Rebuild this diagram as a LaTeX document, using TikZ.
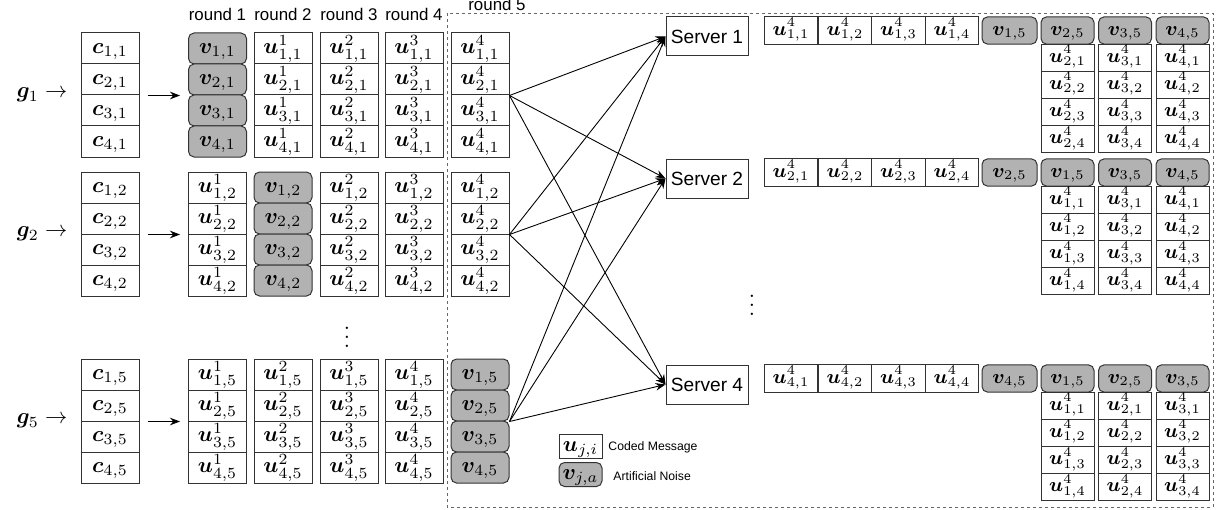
\documentclass[tikz,border=0pt]{standalone}
\usepackage{amsmath,bm}
\usepackage{fontspec}
\newfontfamily\arial{Liberation Sans}
\usetikzlibrary{arrows.meta}

\tikzset{
  cell/.style={draw=black!80,fill=white,line width=0.45pt,inner sep=0pt,
    minimum width=26.1pt,minimum height=13.95pt,text height=7pt,text depth=2.5pt},
  noise/.style={cell,fill=gray!60,rounded corners=2.5pt},
  rcell/.style={cell,minimum width=24.2pt,minimum height=12.25pt,
    font=\fontsize{9.2}{10}\selectfont,text height=6.3pt,text depth=2.2pt},
  rnoise/.style={rcell,fill=gray!60,rounded corners=2.5pt},
  server/.style={draw=black!80,line width=0.45pt,inner sep=0pt,minimum width=36.9pt,
    minimum height=17.55pt,font=\arial\fontsize{8.6}{10}\selectfont},
  rnd/.style={font=\arial\fontsize{7.6}{9}\selectfont,inner sep=0pt},
  legtxt/.style={font=\arial\fontsize{5.5}{7}\selectfont,anchor=west,inner sep=0pt},
}

\begin{document}
\begin{tikzpicture}[x=0.45pt,y=-0.45pt,>={Stealth[length=4.5pt,width=3.4pt]}]
\useasboundingbox (0,0) rectangle (1216,510);
% frame of round 5
\draw[black!60,line width=0.4pt,dash pattern=on 1.5pt off 1.2pt] (447,13) rectangle (1213,507);
\foreach \rd/\cx in {1/217.5,2/283,3/349,4/414}
  \node[rnd] (round\rd) at (\cx,14) {round \rd};
\node[rnd] (round5) at (497,4) {round 5};

% users: coded pieces and the rounds
\foreach \grp/\ty in {1/33,2/172,5/359}{
  \node (g\grp) at (42,\ty+62) {$\bm{g}_\grp \rightarrow$};
  \foreach \ii in {1,...,4}
    \node[cell] (c-\ii-\grp) at (110,\ty+15.5+31*\ii-31) {$\bm{c}_{\ii,\grp}$};
  \foreach \rd/\cx in {1/217.5,2/283,3/349,4/414,5/480}
    \foreach \ii in {1,...,4}{
      \pgfmathtruncatemacro\pw{\rd<\grp ? \rd : \rd-1}
      \ifnum\rd=\grp
        \node[noise] (r\rd-\ii-\grp) at (\cx,\ty+15.5+31*\ii-31) {$\bm{v}_{\ii,\grp}$};
      \else
        \node[cell] (r\rd-\ii-\grp) at (\cx,\ty+15.5+31*\ii-31) {$\bm{u}^{\pw}_{\ii,\grp}$};
      \fi
    }
  \draw[->,line width=0.4pt] ([xshift=3.6pt]c-2-\grp.south east) -- ([xshift=-3.6pt]r1-2-\grp.south west);
}
\node (dots-l) at (347,331) {$\vdots$};

% servers and what they hold
\foreach \sv/\ty/\others in {1/17/{2,3,4},2/159/{1,3,4},4/365/{1,2,3}}{
  \node[server] (srv\sv) at (707,\ty+19.5) {Server \sv};
  \foreach \kk/\cx in {1/791,2/845,3/898.5,4/952}
    \node[rcell] (row\sv-\kk) at (\cx,\ty+13.5) {$\bm{u}^4_{\sv,\kk}$};
  \node[rnoise,minimum width=24.75pt] (own\sv) at (1009.5,\ty+13.5) {$\bm{v}_{\sv,5}$};
  \foreach \jj [count=\m from 0] in \others{
    \node[rnoise,minimum width=23.85pt] (top\sv-\jj) at (1067.5+57.5*\m,\ty+13.5) {$\bm{v}_{\jj,5}$};
    \foreach \kk in {1,...,4}
      \node[rcell,minimum width=23.85pt] (col\sv-\jj-\kk) at (1067.5+57.5*\m,\ty+13.5+27.2*\kk) {$\bm{u}^4_{\jj,\kk}$};
  }
}
\node (dots-r) at (752,299) {$\vdots$};

\foreach \grp in {1,2,5}
  \foreach \sv in {1,2,4}
    \draw[->,line width=0.4pt] (r5-2-\grp.south east) -- (srv\sv.west);

% legend
\node[cell,minimum width=19.35pt,minimum height=10.8pt] (leg-u) at (580.5,446) {$\bm{u}_{j,i}$};
\node[legtxt] (leg-u-txt) at (608,447) {Coded Message};
\node[noise,minimum width=19.35pt,minimum height=10.8pt] (leg-v) at (580.5,474.5) {$\bm{v}_{j,a}$};
\node[legtxt] (leg-v-txt) at (613,476) {Artificial Noise};
\end{tikzpicture}
\end{document}
